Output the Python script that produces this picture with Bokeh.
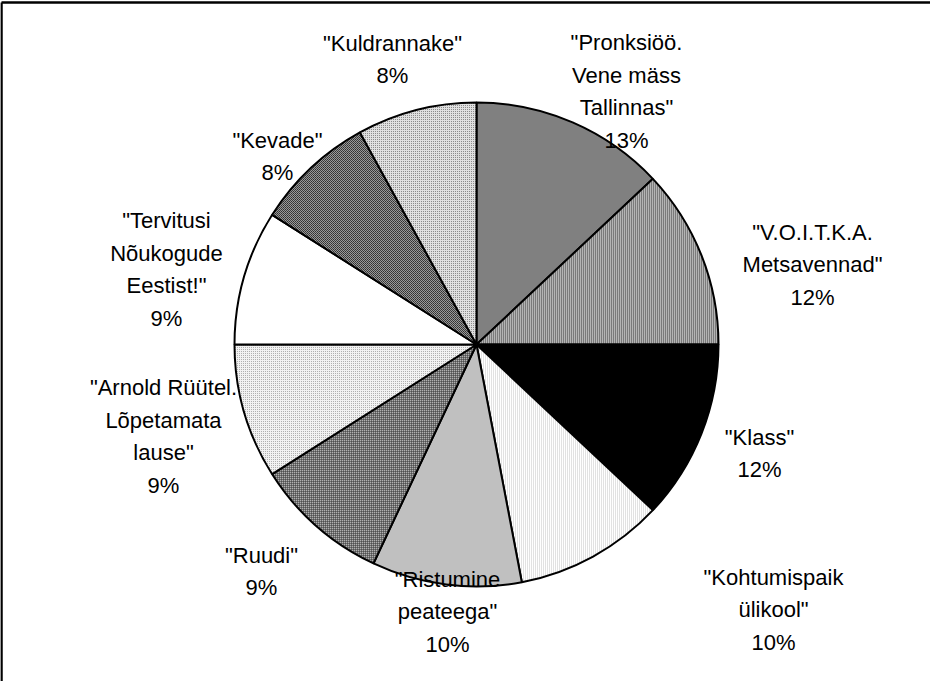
import math
from bokeh.plotting import figure
from bokeh.models import Range1d, ColumnDataSource
from bokeh.core.properties import value
from bokeh.embed import file_html
from bokeh.resources import INLINE

# ---- data ----
categories = [
    '"Pronksiöö.\nVene mäss\nTallinnas"',
    '"V.O.I.T.K.A.\nMetsavennad"',
    '"Klass"',
    '"Kohtumispaik\nülikool"',
    '"Ristumine\npeateega"',
    '"Ruudi"',
    '"Arnold Rüütel.\nLõpetamata\nlause"',
    '"Tervitusi\nNõukogude\nEestist!"',
    '"Kevade"',
    '"Kuldrannake"',
]
shares = [13, 12, 12, 10, 10, 9, 9, 9, 8, 8]

# ---- styles / layout ----
fills = ["#808080", "#b4b4b4", "#000000", "#ffffff", "#c0c0c0",
         "#b0b0b0", "#f2f2f2", "#ffffff", "#9a9a9a", "#e0e0e0"]
hatches = [" ", "|", " ", "|", " ", "+", ".", " ", "x", "."]
hatch_colors = ["#000000", "#404040", "#000000", "#c4c4c4", "#000000",
                "#303030", "#9a9a9a", "#000000", "#303030", "#707070"]
# label centres in page pixels
label_pos = [(634, 99), (820, 272), (767, 461), (781, 617), (455, 619),
             (269, 579), (171, 444), (174, 277), (285, 164), (400, 67)]

W, H = 930, 681
def fx(xp):
    return xp - 8
def fy(yp):
    return H - (yp - 8)

cx, cy, r = fx(484), fy(352), 242

total = float(sum(shares))
starts, ends = [], []
cum = 0.0
for s in shares:
    a0 = math.pi / 2 - 2 * math.pi * cum / total
    cum += s
    a1 = math.pi / 2 - 2 * math.pi * cum / total
    starts.append(a0)
    ends.append(a1)

p = figure(width=W, height=H, output_backend="svg", toolbar_location=None,
           x_range=Range1d(0, W), y_range=Range1d(0, H), min_border=0)
p.axis.visible = False
p.grid.visible = False
p.outline_line_color = None
p.background_fill_color = "white"

src = ColumnDataSource(dict(start=starts, end=ends, fill=fills,
                            hatch=hatches, hcol=hatch_colors))
p.wedge(x=cx, y=cy, radius=r, start_angle="start", end_angle="end",
        direction="clock", fill_color="fill", hatch_pattern="hatch",
        hatch_color="hcol", hatch_scale=2, hatch_weight=1,
        line_color="black", line_width=2, source=src)

# frame lines (top and left)
p.line(x=[fx(9), fx(9)], y=[fy(10), 0], line_color="black", line_width=2.5)
p.line(x=[fx(9), W], y=[fy(10), fy(10)], line_color="black", line_width=2.5)

labels = [f"{c}\n{s}%" for c, s in zip(categories, shares)]
lsrc = ColumnDataSource(dict(x=[fx(a) for a, b in label_pos],
                             y=[fy(b) for a, b in label_pos], t=labels))
p.text(x="x", y="y", text="t", source=lsrc, text_align="center",
       text_baseline="middle", text_font=value("Liberation Sans"),
       text_font_size="22px", text_line_height=1.3, text_color="black")

open("out.html", "w").write(file_html(p, INLINE))
